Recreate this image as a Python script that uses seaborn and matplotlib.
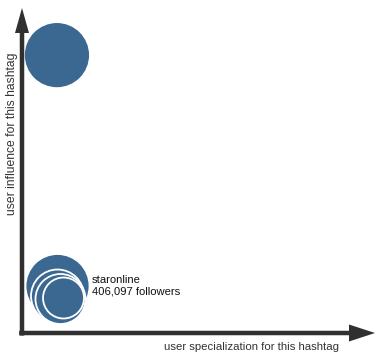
import matplotlib
matplotlib.use("Agg")
import matplotlib.pyplot as plt
import seaborn as sns
import pandas as pd

# data (relative positions on the two conceptual axes, relative bubble weights)
users = ["top_user", "staronline", "user_b", "user_c", "user_d"]
specialization = [0.099, 0.1006, 0.1006, 0.1090, 0.1176]
influence = [0.855, 0.1446, 0.1138, 0.1046, 0.1077]
weight = [1089, 1024, 702, 625, 420]
label_user = "staronline"
label_text = "staronline\n406,097 followers"
x_label = "user specialization for this hashtag"
y_label = "user influence for this hashtag"

df = pd.DataFrame({"user": users, "spec": specialization, "infl": influence, "w": weight})

sns.set_theme(style="white")
plt.rcParams["font.family"] = ["Liberation Sans", "DejaVu Sans"]

fig = plt.figure(figsize=(3.8, 3.58), dpi=100)
ax = fig.add_axes([22 / 380, 25 / 358, 353 / 380, 325 / 358])
ax.set_xlim(0, 1)
ax.set_ylim(0, 1)

maxw = max(weight)
# area proportional to weight; radius 33px -> diameter 66px -> 47.5pt
smax = (2 * 33 * 0.72) ** 2
sns.scatterplot(data=df, x="spec", y="infl", size="w", sizes=(0, smax),
                size_norm=(0, maxw), color="#3b6890", edgecolor="white",
                linewidth=1.3, alpha=1, legend=False, ax=ax, clip_on=False, zorder=3)

ax.axis("off")

arrow_color = "#303030"
AW, AH = 353.0, 325.0
# vertical arrow (y axis)
ax.arrow(0.0, -0.008, 0, 1.008, transform=ax.transAxes, width=4.5 / AW,
         head_width=14 / AW, head_length=25 / AH, length_includes_head=True,
         color=arrow_color, lw=0, clip_on=False, zorder=5)
# horizontal arrow (x axis)
ax.arrow(-0.008, 0.0, 1.008, 0, transform=ax.transAxes, width=4.5 / AH,
         head_width=17 / AH, head_length=26 / AW, length_includes_head=True,
         color=arrow_color, lw=0, clip_on=False, zorder=5)

ax.text((252 - 22) / AW, -0.043, x_label, transform=ax.transAxes, ha="center", va="center",
        fontsize=8.2, color="#333333")
ax.text((12 - 22) / AW, (333 - 134) / AH, y_label, transform=ax.transAxes, ha="center",
        va="center", rotation=90, fontsize=8.7, color="#333333")

i = users.index(label_user)
ax.annotate(label_text, xy=(specialization[i], influence[i]), xycoords="data",
            xytext=(24.8, 0), textcoords="offset points", ha="left", va="center",
            fontsize=8.15, color="#111111", linespacing=1.15)

fig.savefig("out.png", dpi=100)
